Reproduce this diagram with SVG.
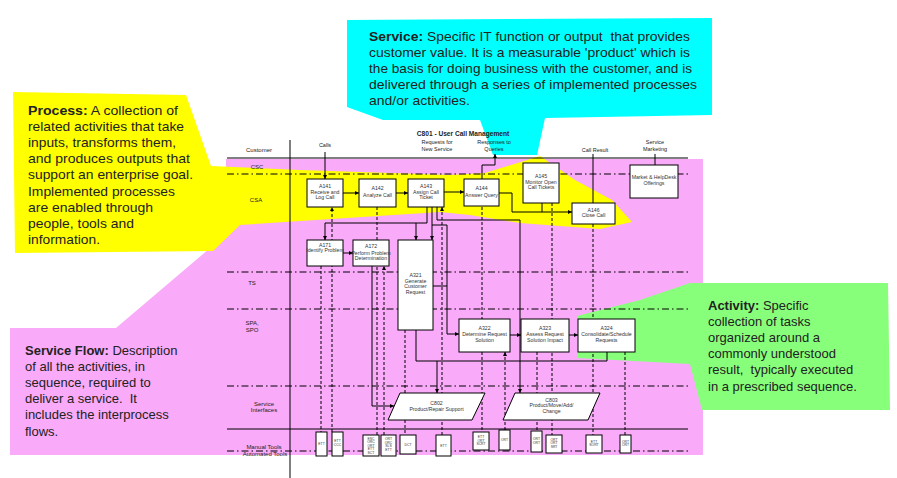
<svg xmlns="http://www.w3.org/2000/svg" width="897" height="478" viewBox="0 0 897 478">
<style>
.ln{fill:none;stroke:#000;stroke-width:1}
.dd{fill:none;stroke:#000;stroke-width:1;stroke-dasharray:3 2}
.lane{fill:none;stroke:#000;stroke-width:1;stroke-dasharray:7 3 1.5 3}
.box{fill:#fff;stroke:#000;stroke-width:1}
.bt{font-family:"Liberation Sans",Arial,sans-serif;font-size:5.2px;fill:#333;text-anchor:middle}
.lt{font-family:"Liberation Sans",Arial,sans-serif;font-size:6px;fill:#222;text-anchor:middle}
.tt{font-family:"Liberation Sans",Arial,sans-serif;font-size:3.4px;fill:#333;text-anchor:middle}
.cl{font-family:"Liberation Sans",Arial,sans-serif;font-size:13px;fill:#222}
.cl tspan.b{font-weight:bold}
</style>
<defs>
<marker id="ah" viewBox="0 0 6 6" refX="6" refY="3" markerWidth="4" markerHeight="4" markerUnits="userSpaceOnUse" orient="auto"><path d="M0,0 L6,3 L0,6 z" fill="#000"/></marker>
</defs>
<rect width="897" height="478" fill="#fff"/>
<g id="backgrounds">
<polygon fill="#F9AAF9" points="226,159 703,159 703,455 10,455 10,328 116,328 236,226 226,226"/>
<polygon fill="#FFFF00" points="13,92 186,95 211,166 300,170 450,175 485,173 540,156 575,180 612,200 632,222 600,229 520,223 470,215 440,212 240,225 213,251 15,253"/>
<polygon fill="#00FFFF" points="347,20 712,18 712,115 545,118 537,155 493,155 480,120 383,120 347,107"/>
<polygon fill="#88FF7A" points="577,316 640,300 690,283 888,283 890,410 702,410 690,364 577,358"/>
</g>
<g id="callouts">
<text class="cl" x="369" y="40.5" textLength="321" lengthAdjust="spacingAndGlyphs" xml:space="preserve"><tspan class="b">Service:</tspan> Specific IT function or output  that provides</text>
<text class="cl" x="369" y="56.6" textLength="321" lengthAdjust="spacingAndGlyphs">customer value. It is a measurable 'product' which is</text>
<text class="cl" x="369" y="72.7" textLength="323" lengthAdjust="spacingAndGlyphs">the basis for doing business with the customer, and is</text>
<text class="cl" x="369" y="88.8" textLength="328" lengthAdjust="spacingAndGlyphs">delivered through a series of implemented processes</text>
<text class="cl" x="369" y="104.9" textLength="101" lengthAdjust="spacingAndGlyphs">and/or activities.</text>
<text class="cl" x="28" y="115" textLength="150" lengthAdjust="spacingAndGlyphs"><tspan class="b">Process:</tspan> A collection of</text>
<text class="cl" x="28" y="131.1" textLength="156" lengthAdjust="spacingAndGlyphs">related activities that take</text>
<text class="cl" x="28" y="147.2" textLength="148" lengthAdjust="spacingAndGlyphs">inputs, transforms them,</text>
<text class="cl" x="28" y="163.3" textLength="162" lengthAdjust="spacingAndGlyphs">and produces outputs that</text>
<text class="cl" x="28" y="179.4" textLength="165" lengthAdjust="spacingAndGlyphs">support an enterprise goal.</text>
<text class="cl" x="28" y="195.5" textLength="147" lengthAdjust="spacingAndGlyphs">Implemented processes</text>
<text class="cl" x="28" y="211.6" textLength="125" lengthAdjust="spacingAndGlyphs">are enabled through</text>
<text class="cl" x="28" y="227.7" textLength="106" lengthAdjust="spacingAndGlyphs">people, tools and</text>
<text class="cl" x="28" y="243.8" textLength="72" lengthAdjust="spacingAndGlyphs">information.</text>
<text class="cl" x="25" y="354.5"><tspan class="b">Service Flow:</tspan> Description</text>
<text class="cl" x="25" y="370.7">of all the activities, in</text>
<text class="cl" x="25" y="386.9">sequence, required to</text>
<text class="cl" x="25" y="403.1" xml:space="preserve">deliver a service.  It</text>
<text class="cl" x="25" y="419.3">includes the interprocess</text>
<text class="cl" x="25" y="435.5">flows.</text>
<text class="cl" x="708" y="309.5"><tspan class="b">Activity:</tspan> Specific</text>
<text class="cl" x="708" y="325.7">collection of tasks</text>
<text class="cl" x="708" y="341.9">organized around a</text>
<text class="cl" x="708" y="358.1">commonly understood</text>
<text class="cl" x="708" y="374.3" xml:space="preserve">result,  typically executed</text>
<text class="cl" x="708" y="390.5">in a prescribed sequence.</text>
</g>
<g id="lanes">
<line class="ln" x1="227" y1="158" x2="688" y2="158"/>
<line class="lane" x1="227" y1="174" x2="688" y2="174"/>
<line class="lane" x1="227" y1="272" x2="688" y2="272"/>
<line class="lane" x1="227" y1="309" x2="688" y2="309"/>
<line class="lane" x1="227" y1="386" x2="688" y2="386"/>
<line class="ln" x1="227" y1="429" x2="688" y2="429"/>
<line class="lane" x1="227" y1="451" x2="688" y2="451"/>
<line class="ln" x1="290" y1="140" x2="290" y2="478"/>
<text class="lt" x="259" y="152">Customer</text>
<text class="lt" x="257" y="169">CSC</text>
<text class="lt" x="256" y="202">CSA</text>
<text class="lt" x="252" y="285">TS</text>
<text class="lt" x="252" y="324.5">SPA,</text>
<text class="lt" x="252" y="331.5">SPO</text>
<text class="lt" x="264" y="405.5">Service</text>
<text class="lt" x="264" y="412">Interfaces</text>
<text class="lt" x="264" y="449">Manual Tools</text>
<text class="lt" x="265" y="456">Automated Tools</text>
<text class="lt" x="463" y="135.5" style="font-weight:bold;font-size:6.6px">C801 - User Call Management</text>
<text class="lt" x="437" y="143.5" style="font-size:5.5px">Requests for</text>
<text class="lt" x="437" y="151" style="font-size:5.5px">New Service</text>
<text class="lt" x="494" y="143.5" style="font-size:5.5px">Responses to</text>
<text class="lt" x="494" y="151" style="font-size:5.5px">Queries</text>
<text class="lt" x="325" y="147" style="font-size:5.5px">Calls</text>
<text class="lt" x="595" y="152" style="font-size:5.5px">Call Result</text>
<text class="lt" x="655" y="143.5" style="font-size:5.5px">Service</text>
<text class="lt" x="655" y="151" style="font-size:5.5px">Marketing</text>
</g>
<g id="connectors">
<path class="ln" d="M325,152 V179" marker-end="url(#ah)"/>
<path class="ln" d="M343,193 H359" marker-end="url(#ah)"/>
<path class="ln" d="M396,193 H408" marker-end="url(#ah)"/>
<path class="ln" d="M444,192 H464" marker-end="url(#ah)"/>
<path class="ln" d="M482,179 V165 H495 V154" marker-end="url(#ah)"/>
<path class="ln" d="M499,193 H512 V212 H572" marker-end="url(#ah)"/>
<path class="ln" d="M542,203 V212"/>
<path class="ln" d="M593,154 V203"/>
<path class="ln" d="M655,154 V165"/>
<path class="ln" d="M427,207 V223 H325 V240" marker-end="url(#ah)"/>
<path class="ln" d="M416,223 V240" marker-end="url(#ah)"/>
<path class="ln" d="M432,207 V240" marker-end="url(#ah)"/>
<path class="ln" d="M432,225 H447 V334 H459" marker-end="url(#ah)"/>
<path class="ln" d="M433,286 H447"/>
<path class="ln" d="M437,207 V220 H520 V393" marker-end="url(#ah)"/>
<path class="ln" d="M343,253 H353" marker-end="url(#ah)"/>
<path class="ln" d="M372,266 V406 H394" marker-end="url(#ah)"/>
<path class="ln" d="M416,330 V361 H607 V352"/>
<path class="ln" d="M437,361 V393" marker-end="url(#ah)"/>
<path class="ln" d="M510,335 H521" marker-end="url(#ah)"/>
<path class="ln" d="M569,335 H578" marker-end="url(#ah)"/>
<path class="dd" d="M332,432 V207" marker-end="url(#ah)"/>
<path class="dd" d="M321,266 V432"/>
<path class="dd" d="M377,207 V435"/>
<path class="dd" d="M384,435 V266" marker-end="url(#ah)"/>
<path class="dd" d="M405,330 V435"/>
<path class="dd" d="M442,435 V207" marker-end="url(#ah)"/>
<path class="dd" d="M482,207 V432"/>
<path class="dd" d="M505,430 V352" marker-end="url(#ah)"/>
<path class="dd" d="M537,352 V431"/>
<path class="dd" d="M552,203 V435"/>
<path class="dd" d="M593,224 V435"/>
<path class="dd" d="M625,352 V435"/>
</g>
<g id="A141"><rect class="box" x="307" y="179" width="36" height="28"/><text class="bt" x="325" y="188.4">A141</text><text class="bt" x="325" y="193.6">Receive and</text><text class="bt" x="325" y="198.8">Log Call</text></g>
<g id="A142"><rect class="box" x="359" y="179" width="37" height="28"/><text class="bt" x="377.5" y="190">A142</text><text class="bt" x="377.5" y="196.5">Analyze Call</text></g>
<g id="A143"><rect class="box" x="408" y="179" width="36" height="28"/><text class="bt" x="426" y="188.4">A143</text><text class="bt" x="426" y="193.6">Assign Call</text><text class="bt" x="426" y="198.8">Ticket</text></g>
<g id="A144"><rect class="box" x="464" y="179" width="35" height="27"/><text class="bt" x="481.5" y="190">A144</text><text class="bt" x="481.5" y="196.5">Answer Query</text></g>
<g id="A145"><rect class="box" x="523" y="163" width="36" height="40"/><text class="bt" x="541" y="178.4">A145</text><text class="bt" x="541" y="184">Monitor Open</text><text class="bt" x="541" y="189.2">Call Tickets</text></g>
<g id="A146"><rect class="box" x="572" y="203" width="43" height="21"/><text class="bt" x="593.5" y="211.7">A146</text><text class="bt" x="593.5" y="217.4">Close Call</text></g>
<g id="MHD"><rect class="box" x="630" y="165" width="48" height="33"/><text class="bt" x="654" y="179.4">Market &amp; HelpDesk</text><text class="bt" x="654" y="185">Offerings</text></g>
<g id="A171"><rect class="box" x="307" y="240" width="36" height="26"/><text class="bt" x="325" y="246.7">A171</text><text class="bt" x="325" y="251.7">Identify Problem</text></g>
<g id="A172"><rect class="box" x="353" y="240" width="36" height="26"/><text class="bt" x="371" y="248.4">A172</text><text class="bt" x="371" y="254.5">Perform Problem</text><text class="bt" x="371" y="259.8">Determination</text></g>
<g id="A321"><rect class="box" x="398" y="240" width="35" height="90"/><text class="bt" x="415.5" y="276.7">A321</text><text class="bt" x="415.5" y="282.6">Generate</text><text class="bt" x="415.5" y="288.4">Customer</text><text class="bt" x="415.5" y="294.3">Request</text></g>
<g id="A322"><rect class="box" x="459" y="319" width="51" height="33"/><text class="bt" x="484.5" y="330">A322</text><text class="bt" x="484.5" y="335.7">Determine Request</text><text class="bt" x="484.5" y="341.6">Solution</text></g>
<g id="A323"><rect class="box" x="521" y="319" width="48" height="33"/><text class="bt" x="545" y="330">A323</text><text class="bt" x="545" y="335.7">Assess Request</text><text class="bt" x="545" y="341.6">Solution Impact</text></g>
<g id="A324"><rect class="box" x="578" y="319" width="57" height="33"/><text class="bt" x="606.5" y="330">A324</text><text class="bt" x="606.5" y="335.7">Consolidate/Schedule</text><text class="bt" x="606.5" y="341.6">Requests</text></g>
<g id="C802"><polygon class="box" points="400,393 485,393 472,420 388,420"/><text class="bt" x="436.5" y="405">C802</text><text class="bt" x="436.5" y="411">Product/Repair Support</text></g>
<g id="C803"><polygon class="box" points="515,393 600,393 588,420 503,420"/><text class="bt" x="551.5" y="401.7">C803</text><text class="bt" x="551.5" y="407.4">Product/Move/Add/</text><text class="bt" x="551.5" y="413.3">Change</text></g>
<g id="T1"><rect class="box" x="316" y="432" width="11" height="24"/><text class="tt" x="321.5" y="445">ETT</text></g>
<g id="T2"><rect class="box" x="332" y="432" width="11" height="24"/><text class="tt" x="337.5" y="442">ETT</text><text class="tt" x="337.5" y="446">CCC</text></g>
<g id="T3"><rect class="box" x="363" y="435" width="16" height="21"/><text class="tt" x="371" y="439.5">ESC</text><text class="tt" x="371" y="443">ORC</text><text class="tt" x="371" y="446.5">ORT</text><text class="tt" x="371" y="450">ETT</text><text class="tt" x="371" y="453.5">SCT</text></g>
<g id="T4"><rect class="box" x="381" y="435" width="15" height="21"/><text class="tt" x="388.5" y="440">ORT</text><text class="tt" x="388.5" y="443.5">ORC</text><text class="tt" x="388.5" y="447">SLS</text><text class="tt" x="388.5" y="450.5">ETT</text></g>
<g id="T5"><rect class="box" x="400" y="435" width="16" height="19"/><text class="tt" x="408" y="445.5">DCT</text></g>
<g id="T6"><rect class="box" x="436" y="435" width="15" height="21"/><text class="tt" x="443.5" y="446.5">ETT</text></g>
<g id="T7"><rect class="box" x="473" y="432" width="16" height="18"/><text class="tt" x="481" y="438">ETT</text><text class="tt" x="481" y="441.5">ORT</text><text class="tt" x="481" y="445">SCRT</text></g>
<g id="T8"><rect class="box" x="499" y="430" width="11" height="20"/><text class="tt" x="504.5" y="441">ORT</text></g>
<g id="T9"><rect class="box" x="531" y="431" width="11" height="21"/><text class="tt" x="536.5" y="440">ORT</text><text class="tt" x="536.5" y="443.5">ORT</text></g>
<g id="T10"><rect class="box" x="546" y="435" width="16" height="18"/><text class="tt" x="554" y="440.5">ORT</text><text class="tt" x="554" y="444">ORT</text><text class="tt" x="554" y="447.5">SRT</text></g>
<g id="T11"><rect class="box" x="586" y="435" width="16" height="18"/><text class="tt" x="594" y="442.5">ETT</text><text class="tt" x="594" y="446">SORT</text></g>
<g id="T12"><rect class="box" x="620" y="435" width="11" height="18"/><text class="tt" x="625.5" y="442.5">ORT</text><text class="tt" x="625.5" y="446">ORT</text></g>
</svg>
